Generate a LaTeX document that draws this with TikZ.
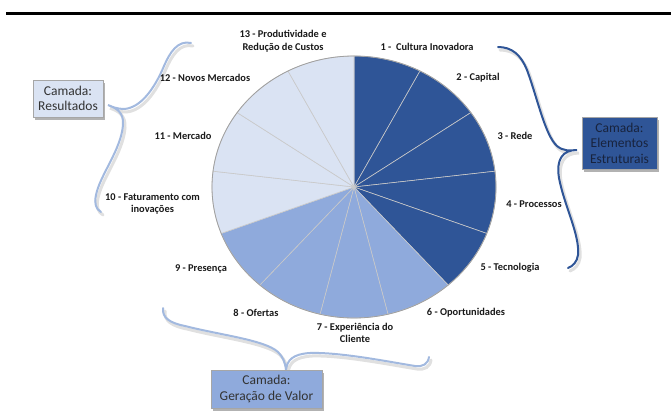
\documentclass[tikz,border=0pt]{standalone}
\usepackage{fontspec}
\setmainfont{Carlito}
\usetikzlibrary{shadows}
\definecolor{dkblue}{HTML}{2F5597}
\definecolor{mdblue}{HTML}{8FAADC}
\definecolor{ltblue}{HTML}{DAE3F3}
\definecolor{bracelt}{HTML}{A2B9DF}
\definecolor{sepgray}{HTML}{C9C9C9}
\definecolor{rimgray}{HTML}{A0A0A0}
\definecolor{boxline}{HTML}{A6A6A6}
\definecolor{boxtext}{HTML}{333333}
\definecolor{darktext}{HTML}{18233D}
\definecolor{lbltext}{HTML}{1A1A1A}
\tikzset{
  lbl/.style={font=\bfseries\fontsize{10.4}{12.5}\selectfont, align=center, inner sep=0pt, text=lbltext},
  layerbox/.style={draw=boxline, line width=0.6pt, align=center, inner sep=1pt,
    font=\fontsize{13.5}{15.5}\selectfont, text=boxtext,
    drop shadow={shadow xshift=2pt, shadow yshift=-3pt, opacity=0.3, fill=black}},
  bracelight/.style={draw=bracelt, line width=2pt, line cap=round},
  bracedark/.style={draw=dkblue, line width=2pt, line cap=round},
  braceshadow/.style={draw=black, opacity=0.12, line width=3pt, line cap=round},
  slice/.style={draw=sepgray, line width=0.6pt}
}
\begin{document}
\begin{tikzpicture}[x=1pt,y=-1pt]
\useasboundingbox (0,0) rectangle (671,412);
\fill[white] (0,0) rectangle (671,412);
% top rule
\coordinate (ruleL) at (6,13.5);
\coordinate (ruleR) at (671,13.5);
\draw[line width=3pt] (ruleL) -- (ruleR);

% pie
\begin{scope}[shift={(354,187)}, yscale=-1]
\foreach \k/\c in {1/dkblue,2/dkblue,3/dkblue,4/dkblue,5/dkblue,6/mdblue,7/mdblue,8/mdblue,9/mdblue,10/ltblue,11/ltblue,12/ltblue,13/ltblue}{
  \pgfmathsetmacro\aA{90-(\k-1)*360/13}
  \pgfmathsetmacro\aB{90-\k*360/13}
  \filldraw[slice, fill=\c] (0,0) -- (\aA:142 and 131) arc[start angle=\aA, end angle=\aB, x radius=142, y radius=131] -- cycle;
}
\draw[rimgray, line width=0.8pt] (0,0) ellipse [x radius=142, y radius=131];
\end{scope}

% labels
\node[lbl] (l1) at (427,47) {1 -~ Cultura Inovadora};
\node[lbl] (l2) at (478,78) {2 - Capital};
\node[lbl] (l3) at (515,136) {3 - Rede};
\node[lbl] (l4) at (534,204) {4 - Processos};
\node[lbl] (l5) at (510,268) {5 - Tecnologia};
\node[lbl] (l6) at (466,313) {6 - Oportunidades};
\node[lbl] (l7) at (355,333) {7 - Experiência do\\Cliente};
\node[lbl] (l8) at (256,313) {8 - Ofertas};
\node[lbl] (l9) at (201,269) {9 - Presença};
\node[lbl] (l10) at (152.5,204) {10 - Faturamento com\\inovações};
\node[lbl] (l11) at (183,136) {11 - Mercado};
\node[lbl] (l12) at (205,78) {12 - Novos Mercados};
\node[lbl] (l13) at (283,41) {13 - Produtividade e\\Redução de Custos};

% braces (shadows first)
\def\braceL{(191,43) .. controls (178,40) and (170,52) .. (164,66) .. controls (154,90) and (140,108) .. (124,109) .. controls (118,109) and (112,107) .. (108,105) .. controls (116,108) and (124,112) .. (123,125) .. controls (121,150) and (100,175) .. (96,195) .. controls (94,204) and (96,209) .. (101,212)}
\def\braceR{(498,47) .. controls (512,47) and (521,55) .. (527,70) .. controls (538,100) and (545,135) .. (557,146) .. controls (563,151) and (570,151) .. (577,150) .. controls (562,150) and (556,160) .. (559,178) .. controls (564,205) and (580,235) .. (578,255) .. controls (577,262) and (573,266) .. (568,268)}
\def\braceB{(163,308) .. controls (162,318) and (170,323) .. (185,326) .. controls (220,335) and (265,340) .. (278,352) .. controls (283,357) and (285,362) .. (286,370) .. controls (287,360) and (293,354) .. (310,353) .. controls (340,352) and (390,362) .. (415,366) .. controls (423,367) and (428,364) .. (429,357)}
\begin{scope}[shift={(2,3)}]
\draw[braceshadow] \braceL;
\draw[braceshadow] \braceR;
\draw[braceshadow] \braceB;
\end{scope}
\draw[bracelight] \braceL;
\draw[bracedark] \braceR;
\draw[bracelight] \braceB;

% layer boxes
\node[layerbox, fill=ltblue, minimum width=70pt, minimum height=37pt] (bres) at (68,98.5) {Camada:\\Resultados};
\node[layerbox, fill=dkblue, text=darktext, minimum width=75pt, minimum height=52pt] (best) at (619.5,143) {Camada:\\Elementos\\Estruturais};
\node[layerbox, fill=mdblue, minimum width=111pt, minimum height=38pt] (bval) at (266.5,389) {Camada:\\Geração de Valor};
\end{tikzpicture}
\end{document}
